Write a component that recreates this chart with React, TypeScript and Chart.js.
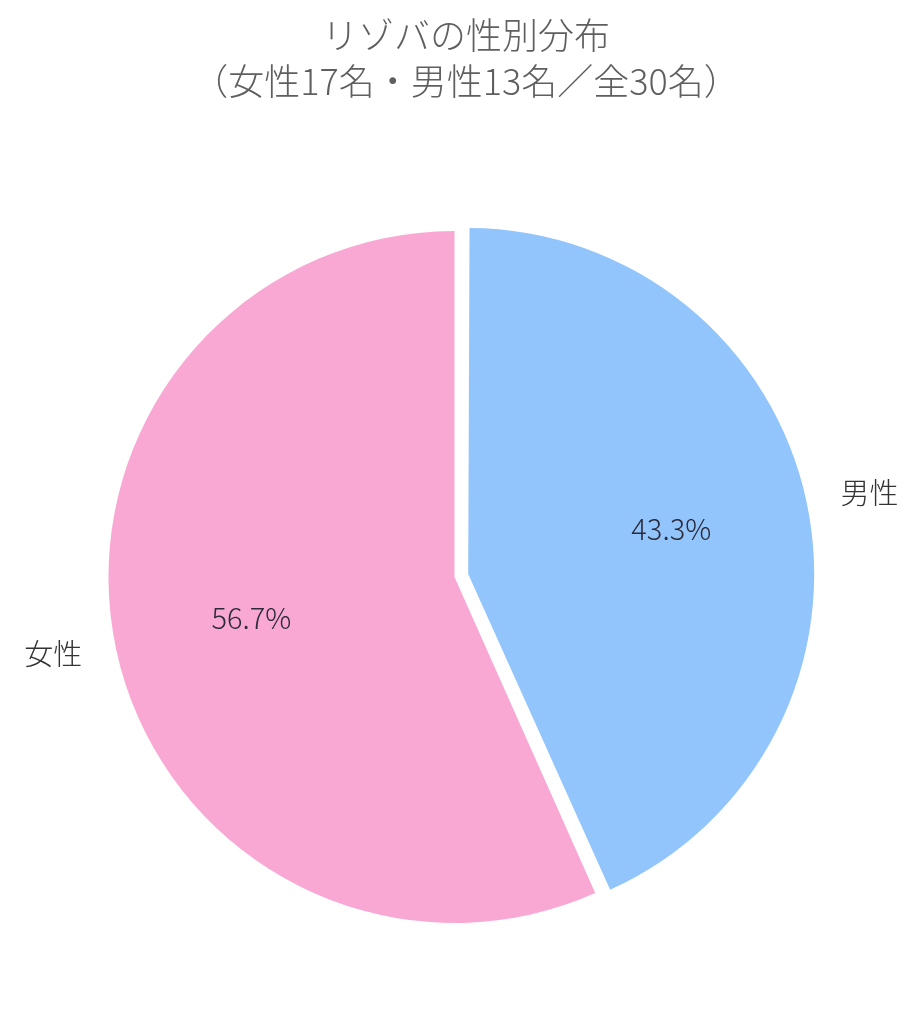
import React, { useEffect, useRef } from "react";
import { Chart, registerables } from "chart.js";

Chart.register(...registerables);

const labels = ["男性", "女性"];
const counts = [13, 17];
const colors = ["#93C5FD", "#F9A8D4"];
const explode = [56, 0];
const titleLines = ["リゾバの性別分布", "（女性17名・男性13名／全30名）"];

const FONT = "'Noto Sans CJK JP Light', 'Noto Sans CJK JP', 'Noto Sans', sans-serif";

// keep exploded slices at the same radius (matplotlib style)
const keepRadius = {
    id: "keepRadius",
    beforeDatasetsDraw(chart: any) {
        const meta = chart.getDatasetMeta(0);
        const base = meta.controller.outerRadius;
        meta.data.forEach((arc: any) => {
            const off = (arc.options.offset || 0) / 4;
            const fix = 1 - Math.sin(Math.min(Math.PI, arc.circumference || 0));
            arc.outerRadius = base - off * fix;
        });
    },
};

// title plus slice names outside and percentages inside
const pieLabels = {
    id: "pieLabels",
    afterDatasetsDraw(chart: any) {
        const ctx = chart.ctx;
        const meta = chart.getDatasetMeta(0);
        const radius = meta.controller.outerRadius;
        const total = counts.reduce((a, b) => a + b, 0);
        ctx.save();
        ctx.textBaseline = "middle";
        ctx.textAlign = "center";
        ctx.fillStyle = "#5f5f5f";
        ctx.font = `300 36px ${FONT}`;
        titleLines.forEach((line, i) => {
            ctx.fillText(line, 466, 35 + i * 46);
        });

        meta.data.forEach((arc: any, i: number) => {
            const { x, y, startAngle, endAngle } = arc.getProps(["x", "y", "startAngle", "endAngle"], true);
            const mid = (startAngle + endAngle) / 2;
            const shift = (arc.options.offset || 0) / 4;
            const cx = x + Math.cos(mid) * shift;
            const cy = y + Math.sin(mid) * shift;

            ctx.font = `300 29px ${FONT}`;

            const lx = cx + Math.cos(mid) * radius * 1.1;
            const ly = cy + Math.sin(mid) * radius * 1.1 - 2;
            ctx.fillStyle = "#333333";
            ctx.textAlign = Math.cos(mid) >= 0 ? "left" : "right";
            ctx.fillText(labels[i], lx, ly);

            const px = cx + Math.cos(mid) * radius * 0.6;
            const py = cy + Math.sin(mid) * radius * 0.6 - 2;
            ctx.textAlign = "center";
            ctx.fillStyle = "#2b2b3a";
            ctx.fillText(((counts[i] / total) * 100).toFixed(1) + "%", px, py);
        });
        ctx.restore();
    },
};

const App: React.FC = () => {
    const chartRef = useRef<HTMLCanvasElement>(null);
    const chartInstanceRef = useRef<Chart | null>(null);

    useEffect(() => {
        document.body.style.margin = "0";
        if (!chartRef.current) return;
        if (chartInstanceRef.current) {
            chartInstanceRef.current.destroy();
        }
        chartInstanceRef.current = new Chart(chartRef.current, {
            type: "pie",
            data: {
                labels: labels,
                datasets: [
                    {
                        data: counts,
                        backgroundColor: colors,
                        borderWidth: 0,
                        offset: explode,
                        radius: 346,
                    } as any,
                ],
            },
            options: {
                responsive: false,
                animation: false,
                devicePixelRatio: 1,
                layout: {
                    padding: { top: 130, bottom: 0, left: 0, right: 12 },
                },
                plugins: {
                    legend: { display: false },
                    tooltip: { enabled: false },
                    title: { display: false },
                },
            },
            plugins: [keepRadius, pieLabels],
        });
        return () => {
            if (chartInstanceRef.current) {
                chartInstanceRef.current.destroy();
                chartInstanceRef.current = null;
            }
        };
    }, []);

    return (
        <div style={{ width: 921, height: 1024, background: "#fff" }}>
            <canvas ref={chartRef} width={921} height={1024} />
        </div>
    );
};

export default App;
